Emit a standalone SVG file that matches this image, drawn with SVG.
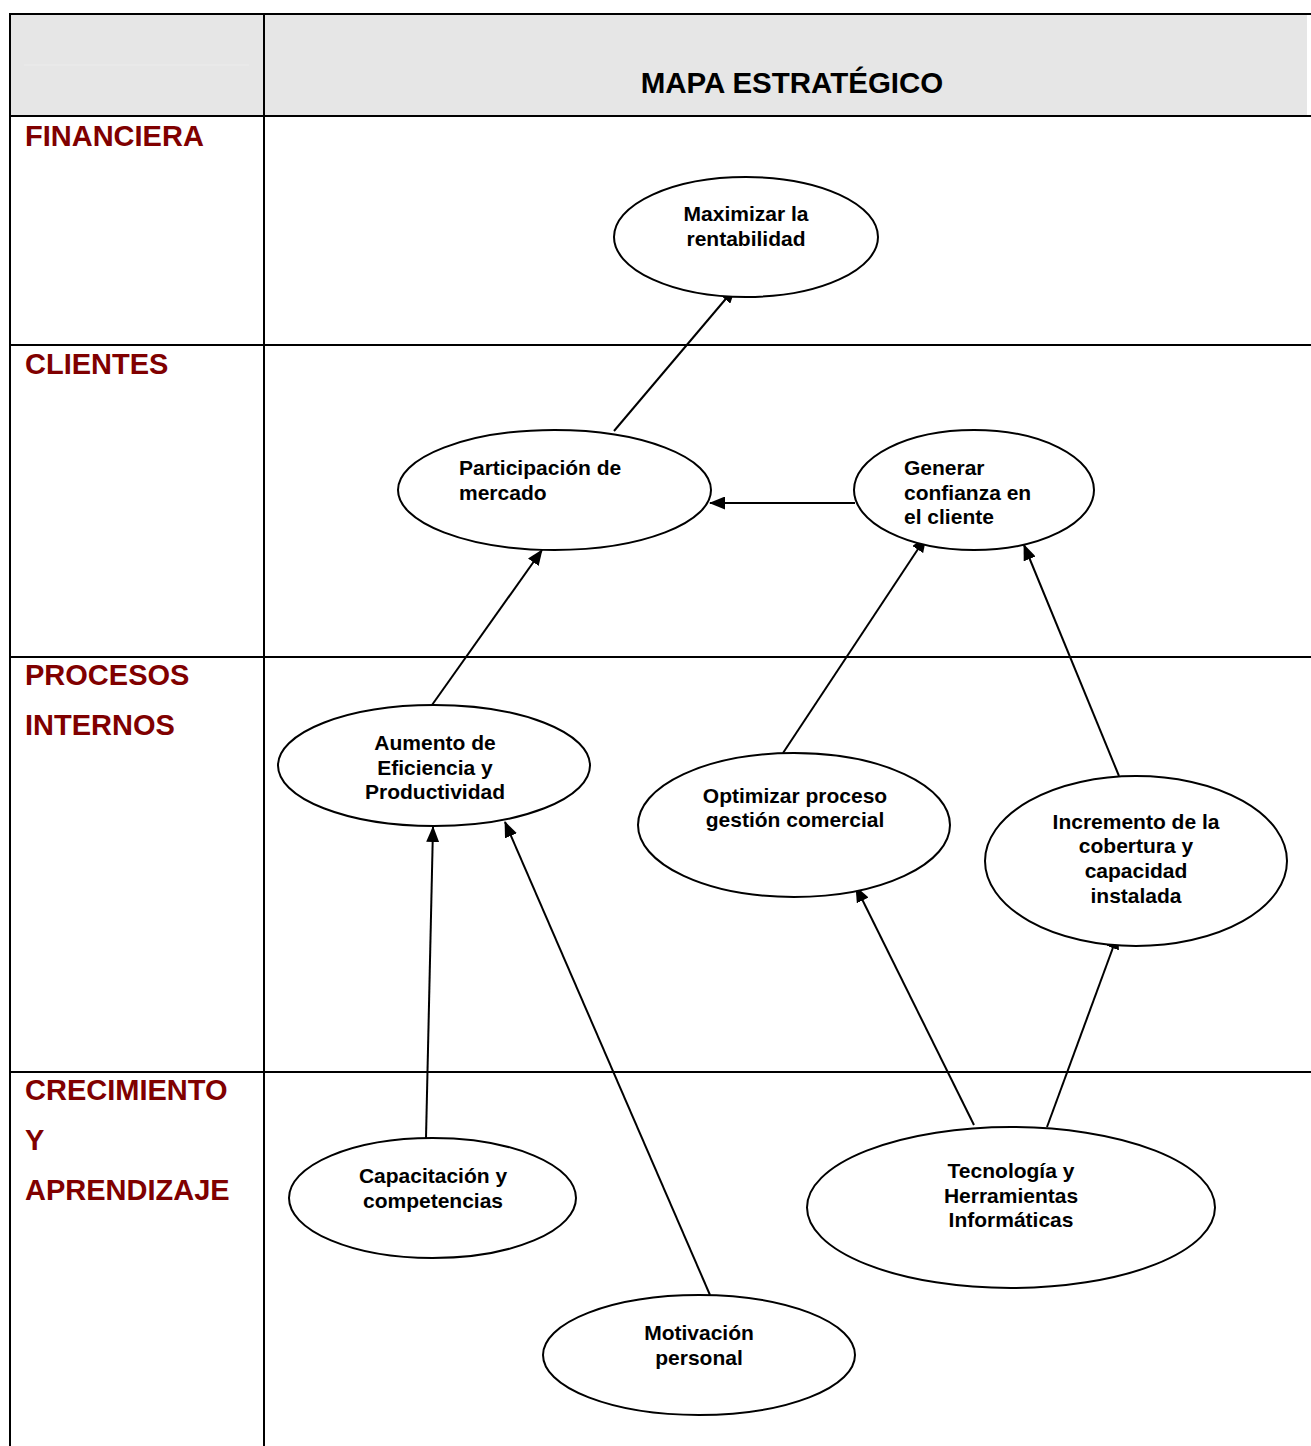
<svg xmlns="http://www.w3.org/2000/svg" width="1311" height="1446" viewBox="0 0 1311 1446">
<style>
.grid{stroke:#000;stroke-width:2;fill:none}
.lab{font-family:"Liberation Sans",Arial,sans-serif;font-weight:bold;font-size:29px;fill:#800000}
.title{font-family:"Liberation Sans",Arial,sans-serif;font-weight:bold;font-size:29.5px;fill:#000}
.node ellipse{fill:#fff;stroke:#000;stroke-width:2}
.node text{font-family:"Liberation Sans",Arial,sans-serif;font-weight:bold;font-size:21px;fill:#000}
.c{text-anchor:middle}
.conn line{stroke:#000;stroke-width:2;marker-end:url(#ah)}
</style>
<defs>
<marker id="ah" viewBox="0 0 16 13" refX="15" refY="6.5" markerWidth="16" markerHeight="13" markerUnits="userSpaceOnUse" orient="auto">
<path d="M0,0 L16,6.5 L0,13 Z" fill="#000"/>
</marker>
</defs>
<rect x="0" y="0" width="1311" height="1446" fill="#fff"/>
<g id="table">
<rect x="11" y="15" width="1296" height="101" fill="#e6e6e6"/>
<line x1="24" y1="65" x2="249" y2="65" stroke="#ececec" stroke-width="1"/>
<line class="grid" x1="10" y1="14" x2="1311" y2="14"/>
<line class="grid" x1="10" y1="116" x2="1311" y2="116"/>
<line class="grid" x1="10" y1="345" x2="1311" y2="345"/>
<line class="grid" x1="10" y1="657" x2="1311" y2="657"/>
<line class="grid" x1="10" y1="1072" x2="1311" y2="1072"/>
<line class="grid" x1="10" y1="13" x2="10" y2="1446"/>
<line class="grid" x1="264" y1="13" x2="264" y2="1446"/>
<text class="title" x="792" y="93" text-anchor="middle">MAPA ESTRATÉGICO</text>
<text class="lab" x="25" y="146">FINANCIERA</text>
<text class="lab" x="25" y="374">CLIENTES</text>
<text class="lab" x="25" y="685">PROCESOS</text>
<text class="lab" x="25" y="735">INTERNOS</text>
<text class="lab" x="25" y="1100">CRECIMIENTO</text>
<text class="lab" x="25" y="1150">Y</text>
<text class="lab" x="25" y="1200">APRENDIZAJE</text>
</g>
<g id="connectors" class="conn">
<line x1="614" y1="431" x2="735" y2="288"/>
<line x1="855" y1="503" x2="710" y2="503"/>
<line x1="432" y1="705" x2="542" y2="550"/>
<line x1="783" y1="753" x2="926" y2="537"/>
<line x1="1119" y1="776" x2="1024" y2="545"/>
<line x1="426" y1="1138" x2="433" y2="827"/>
<line x1="710" y1="1295" x2="505" y2="822"/>
<line x1="974" y1="1125" x2="856" y2="887"/>
<line x1="1047" y1="1127" x2="1118" y2="934"/>
</g>
<g id="n-maximizar" class="node">
<ellipse cx="746" cy="237" rx="132" ry="60"/>
<text class="c" x="746" y="221">Maximizar la</text>
<text class="c" x="746" y="246">rentabilidad</text>
</g>
<g id="n-participacion" class="node">
<ellipse cx="554.5" cy="490" rx="156.5" ry="60"/>
<text x="459" y="475">Participación de</text>
<text x="459" y="500">mercado</text>
</g>
<g id="n-generar" class="node">
<ellipse cx="974" cy="490" rx="120" ry="60"/>
<text x="904" y="475">Generar</text>
<text x="904" y="500">confianza en</text>
<text x="904" y="524">el cliente</text>
</g>
<g id="n-aumento" class="node">
<ellipse cx="434" cy="765.5" rx="156" ry="60.5"/>
<text class="c" x="435" y="750">Aumento de</text>
<text class="c" x="435" y="775">Eficiencia y</text>
<text class="c" x="435" y="799">Productividad</text>
</g>
<g id="n-optimizar" class="node">
<ellipse cx="794" cy="825" rx="156" ry="72"/>
<text class="c" x="795" y="803">Optimizar proceso</text>
<text class="c" x="795" y="827">gestión comercial</text>
</g>
<g id="n-incremento" class="node">
<ellipse cx="1136" cy="861" rx="151" ry="85"/>
<text class="c" x="1136" y="829">Incremento de la</text>
<text class="c" x="1136" y="853">cobertura y</text>
<text class="c" x="1136" y="878">capacidad</text>
<text class="c" x="1136" y="903">instalada</text>
</g>
<g id="n-capacitacion" class="node">
<ellipse cx="432.5" cy="1198" rx="143.5" ry="60"/>
<text class="c" x="433" y="1183">Capacitación y</text>
<text class="c" x="433" y="1208">competencias</text>
</g>
<g id="n-tecnologia" class="node">
<ellipse cx="1011" cy="1207.5" rx="204" ry="80.5"/>
<text class="c" x="1011" y="1178">Tecnología y</text>
<text class="c" x="1011" y="1203">Herramientas</text>
<text class="c" x="1011" y="1227">Informáticas</text>
</g>
<g id="n-motivacion" class="node">
<ellipse cx="699" cy="1355" rx="156" ry="60"/>
<text class="c" x="699" y="1340">Motivación</text>
<text class="c" x="699" y="1365">personal</text>
</g>
</svg>
